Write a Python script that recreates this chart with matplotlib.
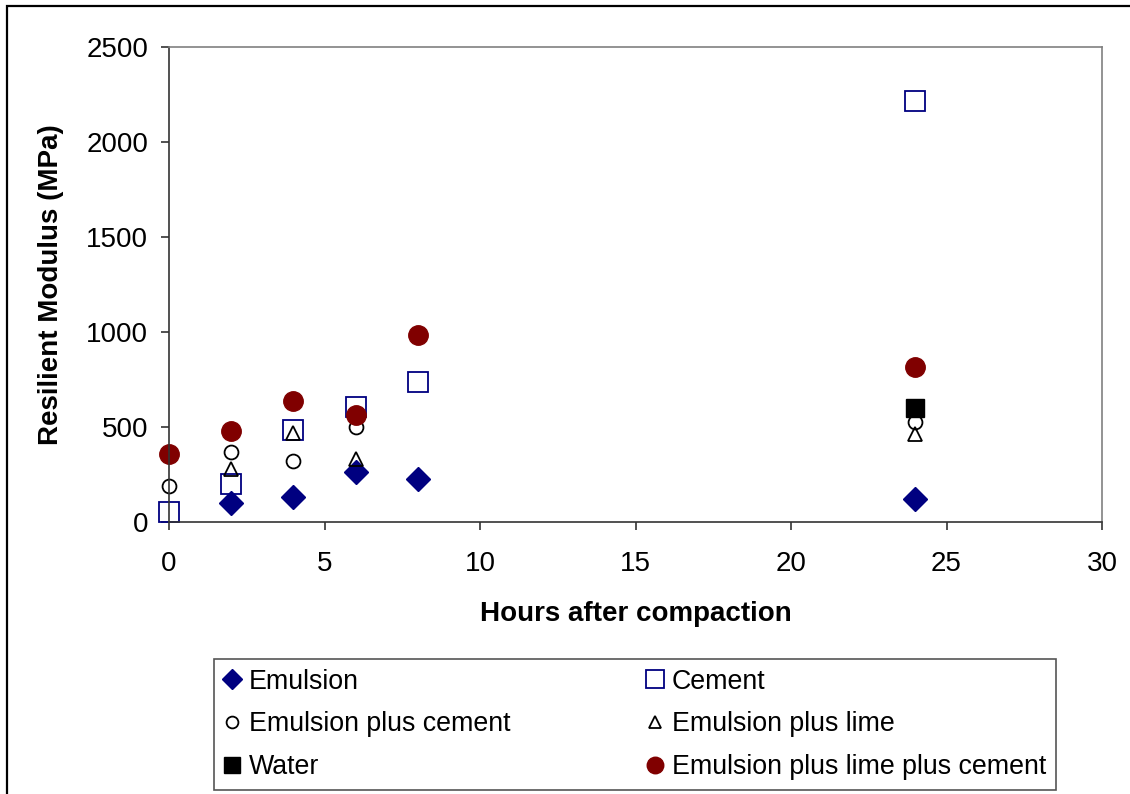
import matplotlib
matplotlib.use("Agg")
import matplotlib.pyplot as plt
from matplotlib.patches import Rectangle

plt.rcParams['font.family'] = ['Liberation Sans', 'DejaVu Sans']

emulsion_x = [2, 4, 6, 8, 24]
emulsion_y = [100, 131, 263, 226, 121]
cement_x = [0, 2, 4, 6, 8, 24]
cement_y = [52, 200, 483, 604, 735, 2216]
epc_x = [0, 2, 4, 6, 24]
epc_y = [189, 368, 320, 499, 525]
epl_x = [2, 4, 6, 24]
epl_y = [278, 467, 331, 462]
water_x = [24]
water_y = [599]
eplpc_x = [0, 2, 4, 6, 8, 24]
eplpc_y = [357, 478, 636, 562, 982, 814]

W, H = 1130, 794
fig = plt.figure(figsize=(W/100, H/100), dpi=100)
L, R, T, B = 169, 1102, 47, 522
ax = fig.add_axes([L/W, 1-B/H, (R-L)/W, (B-T)/H])

navy = '#000080'
maroon = '#800000'
h1, = ax.plot(emulsion_x, emulsion_y, 'D', ms=12, color=navy, mec=navy, ls='none', label='Emulsion')
h2, = ax.plot(cement_x, cement_y, 's', ms=15, mfc='none', mec=navy, mew=1.3, ls='none', label='Cement')
h3, = ax.plot(epc_x, epc_y, 'o', ms=10, mfc='none', mec='black', mew=1.3, ls='none', label='Emulsion plus cement')
h4, = ax.plot(epl_x, epl_y, '^', ms=10.5, mfc='none', mec='black', mew=1.3, ls='none', label='Emulsion plus lime')
h5, = ax.plot(water_x, water_y, 's', ms=13, color='black', ls='none', label='Water')
h6, = ax.plot(eplpc_x, eplpc_y, 'o', ms=14, color=maroon, ls='none', label='Emulsion plus lime plus cement')

ax.set_xlim(0, 30)
ax.set_ylim(0, 2500)
ax.set_xticks(range(0, 31, 5))
ax.set_yticks(range(0, 2501, 500))
for s in ['top', 'right']:
    ax.spines[s].set_color('#808080')
    ax.spines[s].set_linewidth(1.2)
for s in ['left', 'bottom']:
    ax.spines[s].set_color('#333333')
    ax.spines[s].set_linewidth(1.2)
ax.tick_params(direction='out', length=6, labelsize=20, color='#333333', width=1.2)
ax.tick_params(axis='y', pad=9)
ax.tick_params(axis='x', pad=15)
for l in ax.lines:
    l.set_clip_on(False)
ax.set_xlabel('Hours after compaction', fontsize=20, fontweight='bold', labelpad=17)
ax.set_ylabel('Resilient Modulus (MPa)', fontsize=20, fontweight='bold', labelpad=16)

handles = [h1, h3, h5, h2, h4, h6]
leg = fig.legend(handles=handles,
                 labels=[h.get_label() for h in handles],
                 ncol=2, loc='lower left',
                 bbox_to_anchor=(214/W, 1-790/H, (1056-214)/W, (790-659)/H),
                 mode='expand', fontsize=19.3, frameon=True, fancybox=False,
                 edgecolor='#555555', framealpha=1, handlelength=0.65,
                 handletextpad=0.3, borderpad=0.36, labelspacing=0.63,
                 markerscale=0.85, borderaxespad=0, columnspacing=1.0)
leg.get_frame().set_linewidth(1.2)

fig.patches.append(Rectangle((7/W, -0.1), 1.2, 1 - 6/H + 0.1, transform=fig.transFigure,
                             fill=False, edgecolor='black', lw=1.6, clip_on=False))

fig.savefig('out.png', dpi=100)
